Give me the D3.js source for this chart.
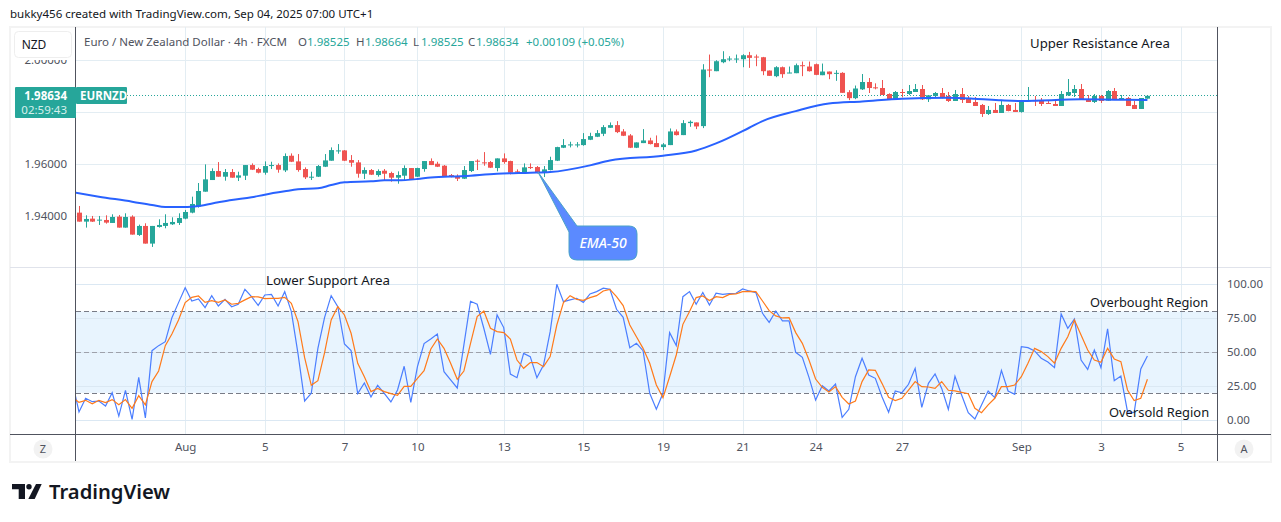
<!DOCTYPE html>
<html>
<head>
  <meta charset="utf-8">
  <script src="https://d3js.org/d3.v7.min.js"></script>
  <title>EURNZD 4h</title>
  <style>
    html, body { margin: 0; padding: 0; background: #fff; }
    svg { display: block; }
    text { font-family: "Noto Sans", "DejaVu Sans", sans-serif; }
  </style>
</head>
<body>
<div id="chart"></div>
<script>
// candles (one entry per 4h bar)
var opens = [1.94141,1.93795,1.93910,1.93846,1.93859,1.93744,1.93987,1.93565,1.93987,1.93283,
1.93629,1.92950,1.93590,1.93629,1.93693,1.93744,1.93910,1.94141,1.94371,1.94947,
1.95395,1.95741,1.95523,1.95702,1.95485,1.95562,1.95971,1.95818,1.95677,1.95946,
1.95971,1.95766,1.96330,1.96112,1.95818,1.95485,1.95523,1.95907,1.96138,1.96509,
1.96534,1.96163,1.96074,1.95638,1.95779,1.95587,1.95754,1.95664,1.95485,1.95562,
1.95856,1.95523,1.95818,1.96125,1.96022,1.95946,1.95587,1.95523,1.95446,1.95741,
1.96138,1.96074,1.96086,1.95856,1.96227,1.96125,1.95728,1.95664,1.95894,1.95894,
1.95664,1.95779,1.96138,1.96637,1.96739,1.96739,1.96739,1.96944,1.97059,1.97174,
1.97405,1.97507,1.97264,1.97110,1.96637,1.96816,1.96918,1.96816,1.96662,1.96739,
1.97264,1.97123,1.97584,1.97610,1.97469,1.99645,1.99581,1.99926,2.00042,2.00042,
2.00042,2.00195,2.00144,2.00118,1.99606,1.99389,1.99734,1.99504,1.99504,1.99811,
1.99760,1.99850,1.99427,1.99568,1.99491,1.99517,1.98774,1.98544,1.98883,1.99165,
1.98960,1.98934,1.98704,1.98474,1.98781,1.98704,1.98781,1.98896,1.98499,1.98627,
1.98742,1.98627,1.98435,1.98704,1.98512,1.98397,1.98282,1.97936,1.98090,1.97974,
1.98282,1.98090,1.98013,1.98435,1.98461,1.98435,1.98358,1.98320,1.98243,1.98653,
1.98742,1.98896,1.98512,1.98397,1.98627,1.98448,1.98819,1.98474,1.98550,1.98282,
1.98128,1.98525];

var highs = [1.94397,1.94038,1.94013,1.94013,1.94038,1.94077,1.94051,1.94115,1.94038,1.93680,
1.93731,1.93629,1.93885,1.94077,1.93962,1.94115,1.94243,1.94755,1.95280,1.95997,
1.95843,1.96086,1.95818,1.95818,1.95715,1.95971,1.96035,1.95869,1.96112,1.96099,
1.96035,1.96419,1.96419,1.96394,1.95882,1.95715,1.95971,1.96394,1.96650,1.96778,
1.96547,1.96355,1.96163,1.95882,1.95818,1.95805,1.95818,1.95715,1.95728,1.95958,
1.95856,1.95869,1.96125,1.96227,1.96099,1.95971,1.95626,1.95613,1.95933,1.96125,
1.96189,1.96470,1.96125,1.96227,1.96419,1.96138,1.95805,1.96035,1.96035,1.95933,
1.95933,1.96291,1.96675,1.96970,1.96867,1.96854,1.97200,1.97213,1.97315,1.97507,
1.97610,1.97661,1.97354,1.97162,1.96842,1.97354,1.97021,1.97110,1.96816,1.97379,
1.97341,1.97699,1.97686,1.97610,1.99850,2.00221,2.00003,2.00349,2.00157,2.00221,
2.00234,2.00323,2.00221,2.00131,1.99606,1.99773,1.99760,1.99760,1.99875,1.99952,
1.99952,1.99875,1.99875,1.99568,1.99619,1.99542,1.98851,1.99030,1.99472,1.99318,
1.99114,1.99242,1.98730,1.98819,1.98896,1.99050,1.99088,1.99050,1.98666,1.98781,
1.98934,1.98781,1.98858,1.98934,1.98627,1.98589,1.98320,1.98243,1.98358,1.98474,
1.98320,1.98358,1.98474,1.98973,1.98627,1.98550,1.98474,1.98435,1.98819,1.99280,
1.99050,1.99088,1.98666,1.98704,1.98666,1.98858,1.98934,1.98666,1.98589,1.98435,
1.98550,1.98664];

var lows = [1.93795,1.93565,1.93782,1.93667,1.93718,1.93744,1.93565,1.93565,1.93296,1.93245,
1.92950,1.92822,1.93565,1.93539,1.93667,1.93667,1.93885,1.94115,1.94333,1.94947,
1.95395,1.95523,1.95370,1.95485,1.95357,1.95395,1.95779,1.95651,1.95600,1.95818,
1.95677,1.95702,1.96086,1.95715,1.95434,1.95395,1.95510,1.95894,1.96138,1.96406,
1.96125,1.95907,1.95485,1.95434,1.95587,1.95523,1.95395,1.95331,1.95254,1.95395,
1.95395,1.95510,1.95715,1.95971,1.95894,1.95523,1.95498,1.95357,1.95434,1.95702,
1.95779,1.95946,1.95856,1.95728,1.96022,1.95613,1.95638,1.95651,1.95818,1.95651,
1.95510,1.95766,1.96125,1.96624,1.96650,1.96650,1.96714,1.96931,1.97046,1.97085,
1.97405,1.97200,1.97085,1.96624,1.96624,1.96816,1.96765,1.96662,1.96547,1.96739,
1.97110,1.97123,1.97443,1.97354,1.97392,1.99350,1.99581,1.99888,1.99965,1.99901,
1.99734,1.99709,1.99773,1.99427,1.99402,1.99350,1.99325,1.99504,1.99504,1.99389,
1.99568,1.99427,1.99427,1.99274,1.99210,1.98749,1.98467,1.98506,1.98858,1.98742,
1.98883,1.98666,1.98474,1.98474,1.98576,1.98666,1.98781,1.98474,1.98397,1.98576,
1.98538,1.98397,1.98435,1.98358,1.98358,1.98243,1.97821,1.97898,1.97974,1.97974,
1.98038,1.98013,1.97987,1.98422,1.98243,1.98243,1.98320,1.98243,1.98243,1.98627,
1.98589,1.98474,1.98397,1.98358,1.98358,1.98448,1.98474,1.98474,1.98243,1.98128,
1.98128,1.98525];

var closes = [1.93795,1.93898,1.93795,1.93872,1.93757,1.93974,1.93565,1.93974,1.93296,1.93629,
1.92950,1.93629,1.93667,1.93744,1.93782,1.93936,1.94166,1.94474,1.94973,1.95421,
1.95741,1.95523,1.95702,1.95485,1.95574,1.95971,1.95792,1.95677,1.95933,1.95971,
1.95792,1.96317,1.96099,1.95779,1.95498,1.95523,1.95933,1.96150,1.96547,1.96534,
1.96138,1.96061,1.95638,1.95779,1.95600,1.95741,1.95638,1.95485,1.95587,1.95856,
1.95395,1.95856,1.96125,1.95971,1.95907,1.95549,1.95510,1.95446,1.95779,1.96125,
1.96112,1.96061,1.95869,1.96227,1.96086,1.95677,1.95702,1.95882,1.95869,1.95677,
1.95805,1.96163,1.96662,1.96739,1.96765,1.96765,1.96970,1.97085,1.97200,1.97430,
1.97507,1.97238,1.97098,1.96637,1.96842,1.96918,1.96778,1.96662,1.96765,1.97264,
1.97123,1.97584,1.97635,1.97456,1.99645,1.99619,1.99965,2.00042,2.00067,2.00067,
2.00195,2.00093,2.00118,1.99581,1.99402,1.99734,1.99466,1.99530,1.99811,1.99786,
1.99581,1.99440,1.99568,1.99466,1.99517,1.98749,1.98544,1.98915,1.99165,1.98934,
1.98934,1.98666,1.98474,1.98781,1.98755,1.98819,1.98896,1.98499,1.98653,1.98742,
1.98550,1.98435,1.98704,1.98474,1.98358,1.98243,1.97936,1.98090,1.97974,1.98282,
1.98051,1.98013,1.98435,1.98461,1.98435,1.98320,1.98320,1.98243,1.98704,1.98781,
1.98896,1.98474,1.98397,1.98627,1.98435,1.98819,1.98474,1.98550,1.98243,1.98128,
1.98550,1.98634];

// EMA-50, read at a set of bars along the curve
var emaBars = [-1,3,8,11,13,16,18,21,23,26,28,31,33,36,38,40,44,46,48,51,53,58,63,68,71,77,80,88,93,96,101,103,108,113,118,124,131,135,139,142,151,156,161];
var emaValues = [1.94925,1.94755,1.94563,1.94435,1.94358,1.94358,1.94397,1.94538,1.94627,1.94730,1.94832,1.94960,1.95037,1.95075,1.95203,1.95306,1.95344,1.95382,1.95382,1.95434,1.95495,1.95549,1.95638,1.95677,1.95702,1.95958,1.96150,1.96330,1.96534,1.96803,1.97405,1.97661,1.98045,1.98339,1.98416,1.98525,1.98563,1.98525,1.98461,1.98435,1.98499,1.98486,1.98474];

// stochastic RSI, first entry is the bar before the first candle
var kValues = [28,5.9,16,13.5,14,10.3,20.1,2.9,21.9,0.5,31.4,1.5,51.1,54.8,57.7,75.4,86.5,97.5,87.7,89.2,
82.8,91.6,84,88.9,83.5,85.3,96.3,90.9,84.5,92.1,92.6,84,94.6,79.9,48.9,14,19.7,52.8,75.4,91.6,
83.5,56,51.1,19.4,27.3,17,25.6,19.7,13.3,22.1,39.6,13,39.3,56.3,59.7,63.4,35.6,29.5,23.6,55.3,
87.5,85.3,67.6,48.4,77.4,68.1,33.9,31.2,49.1,46.7,31.2,40.5,65.1,100,87.2,88.5,89.7,86.7,92.9,94.6,
97.1,96.3,81.6,75.7,53.3,56.5,51.1,19.7,7.9,19.7,64.4,54.8,90.9,94.6,85.3,93.9,84.8,93.4,92.6,93.1,
93.4,96.6,95.1,93.9,78.6,72,80.3,73,73,49.9,46.2,31.4,14.7,25.3,21.4,26.5,2,7.9,31.9,45.5,
33.2,30.7,17.2,5.7,21.4,20.1,26.3,38.1,9.3,27,33.9,23.3,7.9,32.2,18.4,5.4,0.7,11.1,21.4,16.5,
36.6,21.4,18.9,54.1,53.3,50.9,45.5,42.8,38.6,78.1,67.6,74.4,44.2,37.3,51.6,38.6,67.1,29,32.4,6.1,
5.4,37.6,47.2];

var dValues = [17,13,14.5,12,14.5,12.8,15,11.3,15,8.6,17.9,11.1,28.3,36.1,54.8,63.4,73.7,86.5,90.4,91.4,
86.7,88,86.7,88.5,85.3,86,88.5,90.9,90.7,89.4,89.7,89.7,90.4,86,72.5,45.9,25.6,29,49.4,73.7,
83.5,77.4,63.9,41.8,31.9,20.9,23.3,20.9,19.4,18.2,24.8,24.8,30.7,36.4,52.1,59.7,52.8,41.8,30,36.1,
56.5,76.2,80.3,67.6,65.1,64.4,59.7,44.2,38.1,42.3,42.3,39.3,46.7,70,86.5,91.6,88.9,88.2,90.2,91.6,
95.1,96.3,90.9,84.3,70,61.4,52.8,41.8,25.8,16.5,31.9,47.9,70.5,79.9,90.2,91.4,88,90.9,90.2,92.6,
92.9,94.6,94.8,94.6,87.7,80.6,76.7,75.2,75.4,64.4,56.5,44.2,30.2,24.1,20.6,24.6,16.7,11.8,14,28.3,
36.9,36.6,27,16.7,14.3,16,22.1,28.3,24.6,24.3,23.3,28.3,21.9,21.4,20.4,19.4,8.6,5.4,11.1,16,
24.6,24.6,25.8,31.9,41.8,52.8,50.4,46.7,41.8,52.8,61.4,73.7,62.7,51.6,44.2,42.5,52.8,45,43,22.1,
14.3,16,30];

// axis labels
var priceGrid = [1.94, 1.96, 1.98, 2.00];
var priceLabels = [1.94, 1.96, 2.00]; // 1.98 sits behind the last price tag
var rsiTicks = [0, 25, 50, 75, 100];
var rsiLevels = [20, 50, 80];
var timeBars = [16, 28, 40, 51, 64, 76, 88, 100, 111, 124, 142, 154, 166];
var timeLabels = ["Aug", "5", "7", "10", "13", "15", "19", "21", "24", "27", "Sep", "3", "5"];

var up = "#26a69a", down = "#ef5350", gridColor = "#e3edf3", axisColor = "#50535e", textColor = "#131722";
var lastClose = closes[closes.length - 1];

var svg = d3.select("#chart").append("svg").attr("width", 1281).attr("height", 522);
var defs = svg.append("defs");
defs.append("clipPath").attr("id", "clipPrice").append("rect").attr("x", 76).attr("y", 27).attr("width", 1141).attr("height", 240);
defs.append("clipPath").attr("id", "clipRsi").append("rect").attr("x", 76).attr("y", 268).attr("width", 1141).attr("height", 166);

// scales
var x = d3.scaleLinear().domain([0, 166]).range([79, 1180.6]);
var y = d3.scaleLinear().domain([1.94, 2.00]).range([216.3, 60.3]);
var yRsi = d3.scaleLinear().domain([0, 100]).range([420, 284.3]);

// frame and watermark line
svg.append("rect").attr("x", 10).attr("y", 27).attr("width", 1261).attr("height", 435)
  .attr("fill", "#fff").attr("stroke", "#f3f3f3").attr("stroke-width", 2);
svg.append("text").attr("x", 10).attr("y", 18).attr("font-size", 11.55).attr("fill", textColor)
  .text("bukky456 created with TradingView.com, Sep 04, 2025 07:00 UTC+1");

// vertical grid
svg.append("g").selectAll("line").data(timeBars).enter().append("line")
  .attr("x1", function(d) { return Math.round(x(d)) + 0.5; })
  .attr("x2", function(d) { return Math.round(x(d)) + 0.5; })
  .attr("y1", 27).attr("y2", 434).attr("stroke", gridColor);

// horizontal grid
svg.append("g").selectAll("line").data(priceGrid).enter().append("line")
  .attr("x1", 76).attr("x2", 1217)
  .attr("y1", function(d) { return Math.round(y(d)) + 0.5; })
  .attr("y2", function(d) { return Math.round(y(d)) + 0.5; })
  .attr("stroke", gridColor);
svg.append("line").attr("x1", 10).attr("x2", 1271).attr("y1", 267.5).attr("y2", 267.5).attr("stroke", "#e0e3eb");

// rsi band
svg.append("rect").attr("x", 76).attr("width", 1141)
  .attr("y", yRsi(80)).attr("height", yRsi(20) - yRsi(80))
  .attr("fill", "#2196f3").attr("fill-opacity", 0.1);
svg.append("g").selectAll("line").data(rsiTicks).enter().append("line")
  .attr("x1", 76).attr("x2", 1217)
  .attr("y1", function(d) { return Math.round(yRsi(d)) + 0.5; })
  .attr("y2", function(d) { return Math.round(yRsi(d)) + 0.5; })
  .attr("stroke", "#dbe8f3");
svg.append("g").selectAll("line").data(rsiLevels).enter().append("line")
  .attr("x1", 76).attr("x2", 1217)
  .attr("y1", function(d) { return Math.round(yRsi(d)) + 0.5; })
  .attr("y2", function(d) { return Math.round(yRsi(d)) + 0.5; })
  .attr("stroke", function(d) { return d == 50 ? "#9ea1ab" : "#787b86"; })
  .attr("stroke-dasharray", "5,3");

// last price line
svg.append("line").attr("x1", 76).attr("x2", 1217)
  .attr("y1", Math.floor(y(lastClose)) + 0.5).attr("y2", Math.floor(y(lastClose)) + 0.5)
  .attr("stroke", up).attr("stroke-dasharray", "1,2");

// candles
var bars = d3.range(opens.length);
var candles = svg.append("g").attr("clip-path", "url(#clipPrice)");
candles.selectAll(".wick").data(bars).enter().append("line")
  .attr("class", "wick")
  .attr("x1", function(i) { return Math.round(x(i)) + 0.5; })
  .attr("x2", function(i) { return Math.round(x(i)) + 0.5; })
  .attr("y1", function(i) { return y(highs[i]); })
  .attr("y2", function(i) { return y(lows[i]); })
  .attr("stroke", function(i) { return closes[i] >= opens[i] ? up : down; });
candles.selectAll(".body").data(bars).enter().append("rect")
  .attr("class", "body")
  .attr("x", function(i) { return Math.round(x(i)) - 2; })
  .attr("width", 5)
  .attr("y", function(i) { return y(Math.max(opens[i], closes[i])); })
  .attr("height", function(i) { return Math.max(1, Math.abs(y(opens[i]) - y(closes[i]))); })
  .attr("fill", function(i) { return closes[i] >= opens[i] ? up : down; });

// EMA-50
var emaLine = d3.line()
  .x(function(d, i) { return x(emaBars[i]); })
  .y(function(d) { return y(d); })
  .curve(d3.curveMonotoneX);
svg.append("path").attr("clip-path", "url(#clipPrice)").datum(emaValues)
  .attr("d", emaLine).attr("fill", "none").attr("stroke", "#2962ff").attr("stroke-width", 2);

// rsi lines
var rsiLine = d3.line()
  .x(function(d, i) { return x(i - 1); })
  .y(function(d) { return yRsi(d); });
var rsiG = svg.append("g").attr("clip-path", "url(#clipRsi)");
rsiG.append("path").datum(kValues).attr("d", rsiLine).attr("fill", "none").attr("stroke", "#4b7eff").attr("stroke-width", 1.2);
rsiG.append("path").datum(dValues).attr("d", rsiLine).attr("fill", "none").attr("stroke", "#ff7a1a").attr("stroke-width", 1.2);

// price axis, the top label is cut by the header below
var priceAxis = svg.append("g").attr("transform", "translate(75,0)")
  .call(d3.axisLeft(y).tickValues(priceLabels).tickFormat(d3.format(".5f")).tickSize(0).tickPadding(8));
priceAxis.select(".domain").remove();
priceAxis.selectAll("text").attr("font-size", 11.5).attr("fill", axisColor);
svg.append("rect").attr("x", 11).attr("y", 28).attr("width", 64).attr("height", 32).attr("fill", "#fff");
svg.append("rect").attr("x", 14.5).attr("y", 31.5).attr("width", 57).attr("height", 26).attr("rx", 4)
  .attr("fill", "#fff").attr("stroke", "#eeeeee");
svg.append("text").attr("x", 34).attr("y", 49).attr("text-anchor", "middle").attr("font-size", 12).attr("fill", textColor).text("NZD");

// rsi axis
var rsiAxis = svg.append("g").attr("transform", "translate(1218,0)")
  .call(d3.axisRight(yRsi).tickValues(rsiTicks).tickFormat(d3.format(".2f")).tickSize(0).tickPadding(9));
rsiAxis.select(".domain").remove();
rsiAxis.selectAll("text").attr("font-size", 11.5).attr("fill", axisColor);

// time axis
var timeAxis = svg.append("g").attr("transform", "translate(0,434)")
  .call(d3.axisBottom(x).tickValues(timeBars).tickFormat(function(d) { return timeLabels[timeBars.indexOf(d)]; }).tickSize(0).tickPadding(9));
timeAxis.select(".domain").remove();
timeAxis.selectAll("text").attr("font-size", 11.5).attr("fill", axisColor);

// axis lines
svg.append("line").attr("x1", 75.5).attr("x2", 75.5).attr("y1", 27).attr("y2", 461).attr("stroke", axisColor);
svg.append("line").attr("x1", 1217.5).attr("x2", 1217.5).attr("y1", 27).attr("y2", 461).attr("stroke", axisColor);
svg.append("line").attr("x1", 10).attr("x2", 1271).attr("y1", 434.5).attr("y2", 434.5).attr("stroke", axisColor);

// Z and A buttons
svg.append("circle").attr("cx", 43).attr("cy", 449).attr("r", 9.5).attr("fill", "#f2f2f2");
svg.append("text").attr("x", 43).attr("y", 453).attr("text-anchor", "middle").attr("font-size", 11).attr("fill", axisColor).text("Z");
svg.append("circle").attr("cx", 1244).attr("cy", 449).attr("r", 9.5).attr("fill", "#f2f2f2");
svg.append("text").attr("x", 1244).attr("y", 453).attr("text-anchor", "middle").attr("font-size", 11).attr("fill", axisColor).text("A");

// legend
var legendY = 46;
function legend(px, str, color) {
  svg.append("text").attr("x", px).attr("y", legendY).attr("font-size", 11.5).attr("fill", color).text(str);
}
legend(84, "Euro / New Zealand Dollar \u00b7 4h \u00b7 FXCM", "#50535e");
legend(298, "O", "#50535e"); legend(307, "1.98525", up);
legend(356, "H", "#50535e"); legend(365, "1.98664", up);
legend(413, "L", "#50535e"); legend(421, "1.98525", up);
legend(468, "C", "#50535e"); legend(476, "1.98634", up);
legend(526, "+0.00109", up); legend(578, "(+0.05%)", up);

// last price labels
svg.append("rect").attr("x", 15).attr("y", 87).attr("width", 61).attr("height", 31).attr("fill", up).attr("rx", 1);
svg.append("rect").attr("x", 76).attr("y", 87).attr("width", 51).attr("height", 17).attr("fill", up).attr("rx", 1);
svg.append("text").attr("x", 67).attr("y", 100).attr("text-anchor", "end").attr("font-family", "Lato, sans-serif")
  .attr("font-size", 11.5).attr("font-weight", 700).attr("fill", "#fff").text("1.98634");
svg.append("text").attr("x", 67).attr("y", 114).attr("text-anchor", "end").attr("font-family", "Lato, sans-serif")
  .attr("font-size", 11.5).attr("fill", "#d6f0ec").text("02:59:43");
svg.append("text").attr("x", 80).attr("y", 100).attr("font-family", "Lato, sans-serif")
  .attr("font-size", 11.5).attr("font-weight", 700).attr("fill", "#fff").text("EURNZD");

// annotations
function note(str, px, py, size) {
  svg.append("text").attr("x", px).attr("y", py).attr("font-size", size).attr("fill", textColor).text(str);
}
note("Upper Resistance Area", 1030, 48, 13.2);
note("Lower Support Area", 266, 285, 13.3);
note("Overbought Region", 1090, 307, 12.8);
note("Oversold Region", 1109, 417, 12.9);

// EMA-50 callout
svg.append("path")
  .attr("d", "M538 172 L577 226 L629 226 Q637 226 637 234 L637 252 Q637 260 629 260 L577 260 Q569 260 569 252 L569 232 Z")
  .attr("fill", "#5b8aff").attr("stroke", "#4aa3c7").attr("stroke-width", 1);
svg.append("text").attr("x", 603).attr("y", 248).attr("text-anchor", "middle")
  .attr("font-size", 14).attr("font-weight", 500).attr("font-style", "italic").attr("fill", "#fff").text("EMA-50");

// logo
var logo = svg.append("g").attr("fill", "#131722");
logo.append("path").attr("d", "M12 484 H25 V499 H18.7 V489.3 H12 Z");
logo.append("circle").attr("cx", 29).attr("cy", 486.7).attr("r", 2.7);
logo.append("path").attr("d", "M36 484 H41.7 L34.7 499 H28.3 Z");
svg.append("text").attr("x", 49).attr("y", 499).attr("font-family", "Inter, Roboto, sans-serif")
  .attr("font-size", 20.2).attr("font-weight", 600).attr("fill", "#131722").text("TradingView");
</script>
</body>
</html>
